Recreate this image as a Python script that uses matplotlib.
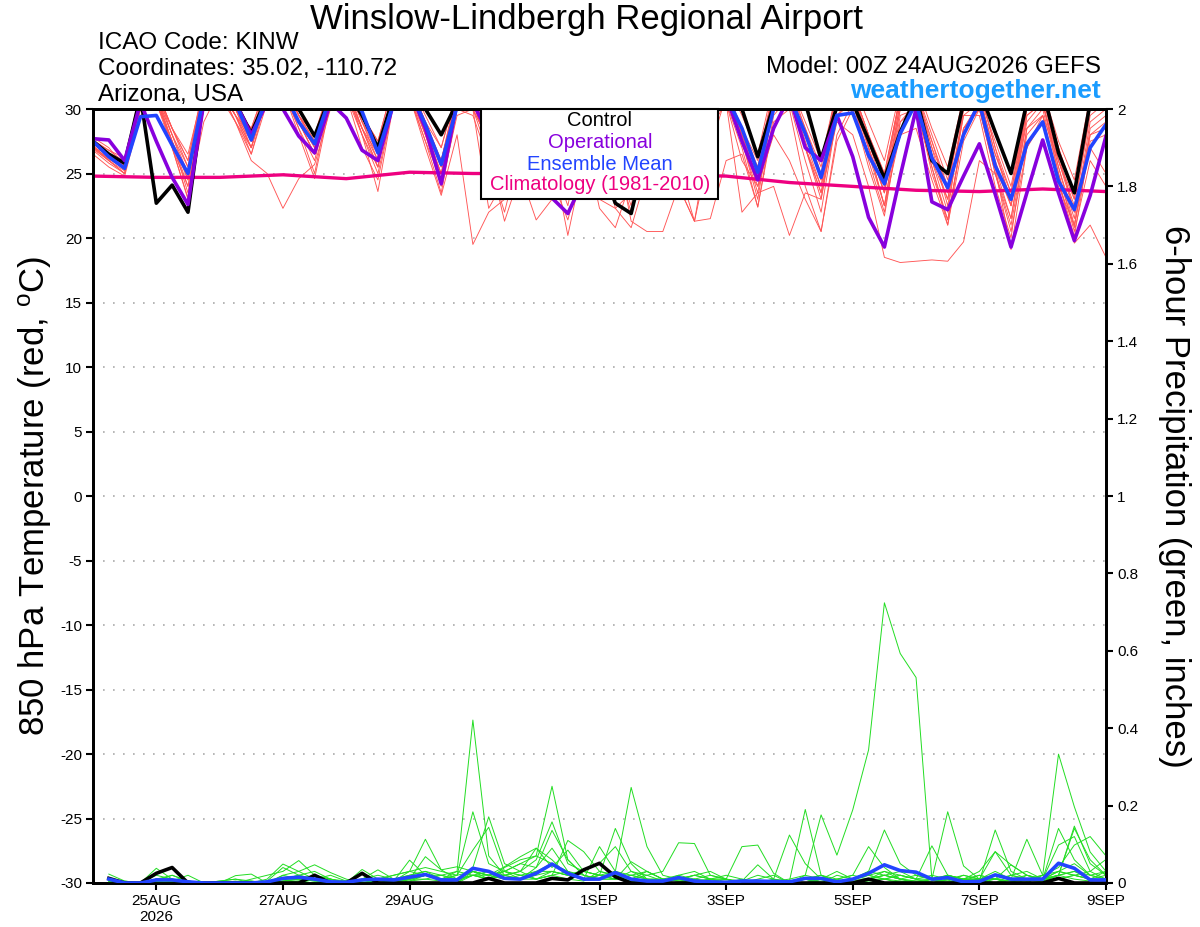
import matplotlib
matplotlib.use('Agg')
import matplotlib.pyplot as plt
from matplotlib.patches import Rectangle

# forecast hours after 00Z 24AUG2026
fcst_hours = list(range(0, 385, 6))
precip_hours = list(range(6, 385, 6))
clim_hours = list(range(0, 385, 24))

tick_hours = [24, 72, 120, 192, 240, 288, 336, 384]
tick_labels = ['25AUG\n2026', '27AUG', '29AUG', '1SEP', '3SEP', '5SEP', '7SEP', '9SEP']

# 850 hPa temperature (C)
temp_mean = [27.5, 26.3, 25.4, 29.4, 29.5, 27.2, 25.0, 31.0, 32.0, 30.5, 27.6, 31.0,
             31.5, 29.0, 27.3, 31.0, 31.5, 29.8, 26.6, 30.5, 31.5, 28.8, 25.7, 30.2,
             31.0, 29.0, 26.0, 29.5, 30.5, 28.5, 25.5, 29.0, 30.0, 28.5, 25.5, 29.0,
             30.5, 28.5, 25.5, 29.5, 31.0, 28.5, 25.1, 30.0, 31.0, 28.1, 24.7, 29.5,
             29.7, 26.4, 24.2, 28.1, 30.5, 26.2, 23.9, 28.0, 30.5, 25.6, 23.0, 27.3,
             29.0, 24.4, 22.2, 27.0, 28.8]
temp_control = [27.5, 26.5, 25.8, 31.0, 22.7, 24.1, 22.0, 31.0, 32.0, 30.5, 28.1, 31.0,
                32.0, 30.0, 27.9, 31.0, 31.5, 29.5, 27.0, 31.0, 31.5, 30.0, 28.0, 30.5,
                31.0, 29.0, 26.0, 29.5, 30.5, 28.5, 26.0, 29.0, 26.0, 22.7, 21.9, 27.0,
                30.5, 29.0, 26.5, 30.5, 31.5, 30.0, 26.3, 30.3, 31.5, 30.5, 26.1, 30.2,
                30.5, 27.6, 24.6, 28.2, 31.0, 26.0, 25.0, 30.5, 31.5, 28.2, 25.0, 30.5,
                31.5, 26.6, 23.5, 30.5, 31.5]
temp_oper = [27.7, 27.6, 26.0, 30.5, 27.5, 24.7, 22.6, 30.5, 32.0, 30.5, 28.0, 30.5,
             30.0, 27.9, 26.6, 30.5, 29.3, 26.8, 26.0, 30.5, 31.5, 28.5, 24.2, 30.5,
             30.5, 28.0, 25.0, 28.5, 29.5, 23.1, 21.9, 24.5, 28.5, 27.5, 25.0, 28.5,
             30.0, 28.0, 25.5, 29.5, 31.0, 27.5, 24.5, 28.5, 31.0, 27.0, 26.0, 29.5,
             26.3, 21.6, 19.3, 24.8, 30.0, 22.8, 22.2, 24.8, 27.3, 23.4, 19.3, 23.5,
             27.6, 23.5, 19.8, 23.3, 27.9]
temp_clim = [24.8, 24.7, 24.7, 24.9, 24.6, 25.1, 25.0, 25.0, 24.9, 24.9, 24.8, 24.3,
             24.0, 23.7, 23.6, 23.8, 23.6]

t_mem01 = [27.0, 26.0, 25.2, 30.5, 31.0, 28.0, 25.5, 31.5, 32.0, 30.0, 27.5, 31.0,
           32.5, 29.5, 27.0, 31.5, 32.0, 29.0, 26.0, 31.5, 32.0, 28.5, 25.0, 31.0,
           30.5, 27.0, 24.5, 29.0, 30.5, 26.0, 22.5, 28.5, 29.0, 26.5, 24.5, 29.5,
           30.5, 27.5, 25.0, 31.0, 31.5, 28.0, 24.5, 31.0, 31.5, 27.5, 24.0, 30.5,
           31.5, 27.0, 23.5, 30.0, 31.0, 26.5, 23.0, 30.0, 30.5, 26.0, 22.5, 29.5,
           30.5, 25.5, 21.5, 29.0, 30.0]
t_mem02 = [27.5, 26.5, 25.5, 30.0, 30.5, 27.5, 24.5, 31.0, 31.5, 29.5, 27.0, 31.5,
           32.0, 29.0, 26.5, 31.0, 31.5, 28.5, 25.5, 31.0, 31.0, 27.0, 23.3, 28.0,
           19.5, 22.0, 23.0, 29.0, 30.0, 27.0, 24.0, 30.0, 30.5, 27.5, 25.0, 31.0,
           31.5, 28.0, 25.5, 31.0, 31.0, 28.0, 24.5, 30.5, 31.0, 27.0, 23.5, 29.0,
           28.0, 24.0, 18.5, 18.1, 18.2, 18.3, 18.2, 19.7, 26.0, 25.0, 21.0, 28.0,
           29.5, 26.0, 22.0, 28.0, 28.5]
t_mem03 = [26.5, 25.5, 24.8, 29.5, 30.5, 27.0, 23.1, 30.0, 31.0, 29.0, 26.0, 25.0,
           22.3, 24.6, 25.7, 30.0, 31.0, 28.0, 23.6, 30.5, 31.5, 28.0, 25.0, 30.0,
           29.5, 26.0, 22.0, 27.0, 28.0, 24.5, 21.4, 26.0, 27.5, 22.3, 20.8, 25.0,
           28.0, 24.0, 21.3, 21.5, 26.0, 26.5, 22.4, 29.0, 30.0, 24.0, 20.5, 27.5,
           30.0, 25.5, 21.7, 29.0, 30.5, 25.0, 21.4, 28.5, 30.5, 25.5, 19.1, 27.0,
           29.5, 24.5, 20.1, 27.5, 28.0]
t_mem04 = [27.0, 26.5, 25.8, 30.0, 31.5, 28.0, 24.5, 31.0, 32.0, 29.5, 28.0, 31.5,
           32.0, 29.5, 27.5, 32.0, 32.0, 29.5, 27.0, 31.5, 32.0, 29.0, 26.0, 31.5,
           31.0, 28.5, 25.5, 30.0, 30.5, 28.0, 24.5, 27.0, 23.0, 22.3, 23.5, 28.5,
           30.0, 27.0, 24.5, 30.5, 31.5, 28.5, 25.5, 31.5, 32.0, 28.5, 25.0, 31.5,
           31.5, 28.0, 24.0, 31.0, 31.0, 27.5, 23.5, 31.0, 31.5, 27.0, 22.5, 30.0,
           31.0, 26.5, 22.0, 30.0, 31.0]
t_mem05 = [27.8, 27.0, 25.5, 31.0, 31.5, 28.5, 26.0, 31.5, 32.5, 30.0, 27.0, 31.0,
           32.0, 29.0, 26.5, 31.5, 32.0, 28.5, 26.5, 31.5, 32.0, 28.5, 25.5, 30.5,
           30.5, 28.0, 27.0, 30.5, 31.0, 27.5, 24.0, 29.0, 30.0, 27.0, 25.0, 30.5,
           31.0, 27.0, 23.0, 29.5, 31.0, 27.5, 24.0, 28.0, 26.0, 23.0, 20.5, 28.0,
           30.5, 27.0, 23.5, 30.5, 31.0, 26.0, 22.0, 30.0, 31.0, 26.5, 23.0, 30.0,
           30.5, 25.5, 21.0, 27.0, 25.0]
t_mem06 = [27.2, 26.0, 25.0, 30.0, 31.0, 27.5, 23.5, 30.5, 31.5, 29.0, 26.5, 30.5,
           31.5, 28.5, 25.0, 31.0, 31.5, 28.0, 25.0, 30.5, 31.5, 28.0, 24.0, 29.5,
           30.0, 26.5, 21.3, 25.0, 21.4, 23.0, 24.5, 28.0, 29.5, 26.0, 22.0, 26.5,
           29.0, 25.5, 21.3, 28.5, 30.5, 22.0, 23.5, 24.0, 20.2, 23.5, 23.0, 29.5,
           31.0, 27.0, 22.5, 29.5, 30.0, 25.5, 21.4, 28.5, 30.0, 25.5, 22.5, 29.0,
           30.5, 25.0, 20.5, 26.0, 24.0]
t_mem07 = [26.8, 25.8, 25.0, 30.5, 31.0, 28.0, 25.0, 31.0, 32.0, 30.0, 28.5, 32.0,
           32.5, 30.0, 28.0, 32.0, 32.5, 29.5, 27.5, 32.0, 32.0, 29.5, 27.0, 31.5,
           31.5, 29.0, 26.5, 31.0, 31.0, 28.5, 26.0, 30.5, 31.0, 28.5, 26.5, 31.0,
           31.5, 29.0, 27.0, 31.5, 32.0, 29.5, 26.5, 32.0, 32.0, 29.0, 26.0, 31.5,
           32.0, 29.0, 26.0, 31.5, 32.0, 28.5, 25.5, 31.0, 31.5, 28.0, 25.0, 31.0,
           31.5, 27.5, 24.5, 31.0, 31.5]
t_mem08 = [27.3, 26.3, 25.6, 31.0, 31.0, 27.0, 24.0, 30.5, 31.5, 29.5, 27.0, 31.5,
           31.5, 28.5, 26.0, 31.0, 31.5, 28.0, 25.5, 31.0, 31.0, 27.5, 23.5, 30.0,
           30.0, 27.5, 25.5, 30.5, 30.5, 26.5, 20.2, 26.0, 29.5, 27.0, 24.5, 28.5,
           28.5, 25.0, 23.0, 30.0, 31.0, 27.5, 23.0, 30.5, 31.0, 27.0, 23.5, 30.5,
           31.0, 27.0, 22.5, 28.0, 28.5, 24.5, 21.0, 27.5, 30.0, 25.0, 20.5, 27.0,
           29.0, 24.5, 19.6, 21.0, 18.5]
t_mem09 = [27.0, 26.2, 25.3, 30.0, 30.5, 27.5, 24.8, 31.0, 31.5, 29.5, 27.5, 31.0,
           31.0, 29.0, 27.0, 31.5, 31.0, 28.5, 26.0, 31.0, 31.0, 28.0, 25.0, 30.5,
           30.5, 27.0, 24.0, 29.0, 29.0, 26.0, 23.5, 28.0, 22.3, 20.8, 24.5, 29.0,
           30.0, 26.5, 23.5, 29.5, 30.5, 27.0, 22.4, 29.5, 31.0, 27.0, 24.0, 30.5,
           30.5, 26.5, 22.5, 30.0, 30.5, 26.0, 23.0, 29.5, 30.5, 25.5, 21.5, 29.5,
           30.5, 26.0, 22.5, 29.5, 30.5]
t_mem10 = [27.5, 26.8, 26.2, 31.0, 31.5, 28.5, 25.5, 31.5, 32.0, 30.0, 27.5, 31.5,
           32.0, 29.5, 27.5, 31.5, 32.0, 29.0, 27.0, 31.5, 32.0, 29.0, 26.0, 31.0,
           31.0, 28.0, 26.0, 30.5, 31.0, 28.0, 26.0, 31.0, 30.5, 27.5, 21.3, 20.5,
           20.5, 24.0, 21.3, 27.0, 31.0, 28.0, 25.5, 31.0, 31.5, 28.0, 24.5, 31.0,
           31.5, 28.0, 25.0, 31.0, 31.0, 27.0, 24.0, 30.5, 31.0, 26.5, 23.5, 30.0,
           31.0, 26.0, 23.0, 30.5, 31.0]
t_mem11 = [26.9, 26.0, 25.0, 30.5, 31.0, 27.0, 23.0, 29.0, 31.5, 29.5, 26.5, 31.0,
           31.5, 29.0, 26.5, 31.0, 31.5, 28.5, 25.5, 31.5, 31.5, 28.5, 25.5, 31.0,
           30.0, 27.5, 25.0, 29.0, 29.5, 27.0, 25.0, 29.0, 29.5, 26.0, 24.0, 29.0,
           30.0, 27.0, 24.5, 30.5, 31.0, 27.5, 23.5, 30.5, 31.0, 27.0, 23.0, 30.5,
           31.0, 27.5, 23.5, 30.5, 31.5, 27.0, 22.5, 29.5, 29.5, 24.0, 20.0, 28.5,
           30.0, 25.0, 20.8, 28.5, 29.5]
t_mem12 = [27.4, 26.5, 25.7, 31.0, 31.0, 28.5, 26.5, 31.5, 32.0, 30.0, 28.5, 32.0,
           32.0, 29.5, 28.0, 31.5, 32.0, 29.5, 27.5, 32.0, 32.0, 29.0, 27.0, 31.5,
           31.5, 28.5, 26.5, 31.0, 31.0, 28.0, 26.0, 30.5, 31.0, 28.0, 26.0, 31.0,
           31.0, 28.0, 26.0, 31.0, 31.5, 28.5, 26.0, 31.5, 31.5, 28.5, 25.5, 31.5,
           31.5, 28.0, 25.0, 31.0, 31.5, 28.0, 24.5, 31.0, 31.0, 27.5, 24.0, 30.5,
           31.0, 27.0, 23.5, 30.5, 31.0]
t_mem13 = [27.1, 26.1, 25.4, 30.5, 31.0, 27.5, 24.0, 30.5, 31.5, 29.0, 27.0, 31.0,
           31.5, 28.0, 24.6, 30.5, 31.0, 27.0, 24.5, 30.5, 31.0, 27.5, 24.5, 30.0,
           30.0, 22.3, 24.5, 29.5, 30.0, 26.5, 23.0, 29.0, 30.0, 26.0, 22.5, 28.5,
           29.5, 25.0, 23.0, 29.0, 30.5, 26.0, 24.0, 30.0, 30.5, 26.0, 22.0, 29.5,
           30.5, 26.0, 22.0, 29.0, 30.0, 25.5, 21.0, 28.5, 30.0, 25.0, 21.5, 28.5,
           29.5, 24.0, 21.0, 28.0, 29.0]
t_mem14 = [27.6, 26.8, 25.9, 31.5, 31.5, 28.5, 26.0, 32.0, 32.0, 30.0, 28.0, 32.0,
           32.0, 29.5, 27.5, 32.0, 32.0, 29.0, 26.5, 31.5, 31.5, 28.5, 26.0, 31.0,
           31.0, 28.5, 26.0, 30.5, 30.5, 28.0, 25.5, 30.5, 30.5, 27.5, 25.0, 30.5,
           31.0, 28.0, 25.5, 31.0, 31.5, 28.0, 25.0, 31.5, 31.5, 28.0, 24.5, 31.5,
           31.5, 27.5, 24.5, 31.0, 31.5, 27.5, 24.0, 31.0, 31.5, 27.0, 23.5, 30.5,
           31.5, 27.0, 23.0, 30.5, 31.5]

# 6-hour precipitation (inches)
precip_mean = [0.01, 0.0, 0.0, 0.008, 0.008, 0.003, 0.0, 0.0, 0.0, 0.0, 0.003, 0.012,
               0.015, 0.01, 0.003, 0.002, 0.008, 0.01, 0.008, 0.015, 0.022, 0.008, 0.008, 0.038,
               0.03, 0.012, 0.01, 0.025, 0.049, 0.025, 0.01, 0.01, 0.027, 0.01, 0.005, 0.005,
               0.014, 0.005, 0.003, 0.002, 0.005, 0.005, 0.004, 0.003, 0.012, 0.012, 0.003, 0.01,
               0.025, 0.047, 0.032, 0.028, 0.01, 0.014, 0.003, 0.004, 0.021, 0.01, 0.01, 0.01,
               0.051, 0.038, 0.008, 0.008]
precip_control = [0.012, 0, 0, 0.025, 0.04, 0, 0, 0, 0, 0, 0, 0,
                  0, 0.02, 0, 0, 0.025, 0, 0, 0, 0, 0, 0, 0,
                  0.012, 0, 0, 0, 0.012, 0.008, 0.034, 0.051, 0.016, 0, 0, 0,
                  0, 0, 0, 0, 0, 0, 0, 0, 0, 0, 0, 0,
                  0.01, 0, 0, 0, 0, 0, 0, 0, 0, 0, 0, 0,
                  0.012, 0, 0, 0]

p_mem01 = [0.023, 0.005, 0, 0.01, 0.005, 0, 0, 0, 0, 0, 0.01, 0.049,
           0.03, 0.01, 0, 0, 0, 0.005, 0.01, 0.02, 0.03, 0.01, 0.005, 0.02,
           0.01, 0.03, 0.05, 0.04, 0.136, 0.06, 0.02, 0.01, 0.02, 0.01, 0.005, 0,
           0, 0.01, 0.02, 0.01, 0, 0, 0.005, 0, 0, 0.01, 0.03, 0.01,
           0.02, 0.01, 0.005, 0, 0, 0.01, 0.02, 0.01, 0.03, 0.01, 0, 0.005,
           0.02, 0.141, 0.06, 0.02]
p_mem02 = [0.005, 0, 0, 0.038, 0.01, 0, 0, 0, 0, 0, 0, 0,
           0, 0, 0, 0, 0.035, 0.01, 0, 0.005, 0.01, 0.005, 0, 0.02,
           0.01, 0.02, 0.03, 0.01, 0.02, 0.01, 0.005, 0.03, 0.02, 0.005, 0, 0,
           0.01, 0.02, 0.01, 0, 0, 0, 0.005, 0.01, 0.02, 0.176, 0.072, 0.189,
           0.344, 0.724, 0.593, 0.531, 0.01, 0.005, 0, 0.01, 0.02, 0.01, 0.005, 0.01,
           0.03, 0.02, 0.01, 0.005]
p_mem03 = [0.005, 0, 0, 0.02, 0.01, 0.005, 0, 0, 0, 0.005, 0, 0.02,
           0.01, 0.005, 0, 0, 0.01, 0.034, 0.01, 0.005, 0.02, 0.01, 0.01, 0.03,
           0.02, 0.01, 0.02, 0.03, 0.05, 0.02, 0.01, 0.02, 0.141, 0.05, 0.01, 0,
           0, 0.005, 0.01, 0, 0, 0.005, 0, 0, 0.01, 0.02, 0.01, 0,
           0.01, 0.03, 0.02, 0.01, 0, 0.01, 0.005, 0.02, 0.01, 0, 0.02, 0.01,
           0.098, 0.12, 0.03, 0.01]
p_mem04 = [0, 0, 0, 0.005, 0.005, 0.02, 0, 0, 0, 0, 0, 0.01,
           0.02, 0.01, 0, 0, 0, 0, 0.005, 0.059, 0.02, 0.01, 0, 0.03,
           0.02, 0.03, 0.02, 0.01, 0.02, 0.03, 0.01, 0.094, 0.03, 0.01, 0, 0.005,
           0.01, 0, 0, 0, 0, 0, 0, 0.005, 0.19, 0.02, 0, 0.01,
           0.03, 0.02, 0.01, 0, 0.005, 0.02, 0.01, 0.01, 0.01, 0.005, 0, 0.02,
           0.03, 0.05, 0.02, 0.01]
p_mem05 = [0, 0, 0, 0.01, 0.01, 0, 0, 0, 0, 0.01, 0.02, 0.03,
           0.058, 0.02, 0.01, 0, 0, 0, 0, 0.01, 0.068, 0.034, 0.042, 0.03,
           0.01, 0.04, 0.06, 0.07, 0.05, 0.03, 0.02, 0.01, 0.01, 0.02, 0.03, 0.01,
           0.01, 0.02, 0.01, 0, 0.01, 0, 0, 0, 0, 0.01, 0, 0.01,
           0.03, 0.137, 0.05, 0.02, 0.01, 0, 0.005, 0.01, 0, 0.01, 0.02, 0.005,
           0.02, 0.03, 0.01, 0.02]
p_mem06 = [0, 0, 0, 0, 0.005, 0, 0, 0, 0, 0, 0.005, 0.04,
           0.02, 0.01, 0, 0, 0.005, 0.01, 0, 0.01, 0.01, 0.02, 0.03, 0.02,
           0.03, 0.02, 0.03, 0.06, 0.158, 0.05, 0.03, 0.02, 0.01, 0.03, 0.02, 0.005,
           0.02, 0.03, 0.01, 0.01, 0, 0, 0.01, 0.005, 0.01, 0, 0.01, 0.02,
           0.01, 0.02, 0.03, 0.01, 0.096, 0.02, 0.01, 0, 0, 0.02, 0.01, 0.01,
           0.03, 0.02, 0.01, 0.005]
p_mem07 = [0.005, 0, 0, 0, 0, 0, 0, 0.005, 0.01, 0.005, 0, 0.02,
           0.03, 0.047, 0.027, 0.01, 0, 0, 0.01, 0.01, 0.02, 0.01, 0.01, 0.02,
           0.01, 0.02, 0.01, 0.02, 0.03, 0.02, 0.03, 0.02, 0.01, 0.01, 0.02, 0.03,
           0.104, 0.102, 0.02, 0.01, 0, 0, 0.005, 0, 0, 0.005, 0.01, 0.02,
           0.094, 0.04, 0.01, 0.005, 0.01, 0.02, 0.01, 0.01, 0.081, 0.02, 0.01, 0.01,
           0.02, 0.147, 0.05, 0.02]
p_mem08 = [0, 0, 0, 0.005, 0.02, 0.005, 0, 0, 0.019, 0.023, 0, 0.01,
           0.02, 0.03, 0.01, 0, 0, 0, 0.005, 0.03, 0.113, 0.034, 0.01, 0.02,
           0.02, 0.01, 0.01, 0.03, 0.03, 0.02, 0.01, 0.01, 0.01, 0.055, 0.03, 0.01,
           0.005, 0.01, 0, 0.01, 0.094, 0.098, 0.025, 0, 0, 0.01, 0.005, 0,
           0.01, 0.02, 0.01, 0.005, 0, 0.01, 0, 0.005, 0.01, 0.047, 0.02, 0.01,
           0.02, 0.01, 0.005, 0.01]
p_mem09 = [0, 0, 0, 0, 0, 0, 0, 0.005, 0.01, 0, 0, 0.01,
           0.01, 0.02, 0.01, 0, 0, 0.01, 0.02, 0.03, 0.02, 0.01, 0.03, 0.421,
           0.07, 0.02, 0.01, 0.01, 0.03, 0.02, 0.01, 0.02, 0.02, 0.01, 0.03, 0.01,
           0.005, 0, 0.01, 0.02, 0.01, 0, 0, 0.005, 0.01, 0, 0.02, 0.01,
           0.01, 0, 0.005, 0, 0.01, 0.005, 0.02, 0.01, 0.02, 0.01, 0.113, 0.02,
           0.01, 0.02, 0.01, 0.03]
p_mem10 = [0, 0.005, 0, 0.005, 0, 0, 0, 0, 0, 0, 0.005, 0.01,
           0, 0.01, 0.005, 0, 0.01, 0, 0.005, 0.01, 0.02, 0.01, 0.02, 0.184,
           0.05, 0.03, 0.01, 0.04, 0.09, 0.03, 0.01, 0.02, 0.03, 0.247, 0.094, 0.02,
           0.01, 0, 0.01, 0.01, 0.005, 0.02, 0.01, 0.124, 0.05, 0.01, 0, 0.01,
           0.02, 0.03, 0.01, 0.02, 0.01, 0.02, 0.01, 0.005, 0.137, 0.03, 0.01, 0.02,
           0.333, 0.197, 0.08, 0.03]
p_mem11 = [0.005, 0, 0, 0.01, 0.005, 0, 0, 0, 0, 0, 0, 0.005,
           0.005, 0, 0.01, 0.005, 0.005, 0.01, 0.02, 0.03, 0.04, 0.03, 0.02, 0.085,
           0.144, 0.03, 0.02, 0.01, 0.02, 0.11, 0.081, 0.03, 0.02, 0.01, 0.005, 0,
           0, 0.01, 0.005, 0, 0.005, 0.047, 0.01, 0, 0, 0.01, 0, 0.005,
           0.01, 0.01, 0.02, 0.01, 0.01, 0.184, 0.044, 0.01, 0, 0.01, 0.005, 0.01,
           0.01, 0.02, 0.03, 0.061]
p_mem12 = [0, 0, 0, 0.005, 0.01, 0, 0, 0, 0.005, 0, 0, 0.005,
           0.01, 0.01, 0.02, 0.005, 0.01, 0.02, 0.01, 0.02, 0.03, 0.02, 0.01, 0.04,
           0.171, 0.05, 0.03, 0.09, 0.04, 0.085, 0.03, 0.02, 0.01, 0.02, 0.01, 0.01,
           0.02, 0.01, 0, 0.005, 0, 0.01, 0.02, 0, 0.01, 0.02, 0.005, 0,
           0.005, 0.01, 0.02, 0.01, 0.02, 0.01, 0.01, 0.03, 0.081, 0.047, 0.02, 0.01,
           0.141, 0.06, 0.02, 0.01]
p_mem13 = [0, 0, 0, 0, 0, 0.005, 0, 0, 0, 0, 0, 0,
           0.005, 0.01, 0, 0.005, 0, 0.01, 0.005, 0.01, 0.02, 0.01, 0.02, 0.03,
           0.02, 0.03, 0.05, 0.07, 0.25, 0.06, 0.02, 0.01, 0.03, 0.02, 0.01, 0.01,
           0.005, 0, 0, 0, 0, 0, 0, 0.005, 0.01, 0, 0.005, 0.01,
           0.02, 0.01, 0, 0, 0.01, 0, 0.005, 0, 0.01, 0.005, 0.01, 0.02,
           0.04, 0.098, 0.12, 0.07]
p_mem14 = [0.01, 0, 0, 0.01, 0.02, 0.005, 0, 0, 0, 0, 0, 0.005,
           0.01, 0.005, 0.01, 0, 0, 0.005, 0.01, 0.01, 0.02, 0.02, 0.01, 0.03,
           0.02, 0.042, 0.068, 0.09, 0.06, 0.02, 0.034, 0.051, 0.094, 0.03, 0.01, 0.005,
           0.01, 0.02, 0.03, 0.01, 0, 0, 0, 0, 0.02, 0.01, 0, 0,
           0.01, 0.02, 0.01, 0, 0.01, 0, 0.01, 0.02, 0.01, 0.02, 0.03, 0.01,
           0.02, 0.03, 0.02, 0.03]


def main():
    plt.rcParams['font.family'] = 'Liberation Sans'
    plt.rcParams['mathtext.default'] = 'regular'
    plt.rcParams['axes.unicode_minus'] = False

    temp_members = [t_mem01, t_mem02, t_mem03, t_mem04, t_mem05, t_mem06, t_mem07,
                    t_mem08, t_mem09, t_mem10, t_mem11, t_mem12, t_mem13, t_mem14]
    precip_members = [p_mem01, p_mem02, p_mem03, p_mem04, p_mem05, p_mem06, p_mem07,
                      p_mem08, p_mem09, p_mem10, p_mem11, p_mem12, p_mem13, p_mem14]

    red = '#ff5555'
    green = '#22dd22'
    black = 'black'
    purple = '#8800dd'
    blue = '#2244ff'
    pink = '#ee0080'

    W, H = 1200, 927
    fig = plt.figure(figsize=(12, 9.27), dpi=100)
    ax = fig.add_axes([93 / W, 1 - 883 / H, (1106 - 93) / W, (883 - 109) / H])
    ax2 = ax.twinx()

    # temperature
    for m in temp_members:
        ax.plot(fcst_hours, m, color=red, lw=0.65, zorder=2)
    ax.plot(clim_hours, temp_clim, color=pink, lw=2.4, zorder=3)
    ax.plot(fcst_hours, temp_control, color=black, lw=2.6, zorder=4)
    ax.plot(fcst_hours, temp_oper, color=purple, lw=2.6, zorder=5)
    ax.plot(fcst_hours, temp_mean, color=blue, lw=2.6, zorder=6)

    # precipitation
    for m in precip_members:
        ax2.plot(precip_hours, m, color=green, lw=0.7, zorder=2)
    ax2.plot(precip_hours, precip_control, color=black, lw=2.6, zorder=4)
    ax2.plot(precip_hours, precip_mean, color=blue, lw=2.6, zorder=6)

    ax.set_xlim(0, 384)
    ax.set_ylim(-30, 30)
    ax2.set_ylim(0, 2)
    ax.set_xticks(tick_hours)
    ax.set_xticklabels(tick_labels, fontsize=11)
    ax.set_yticks(range(-30, 31, 5))
    ax.set_yticklabels([str(v) for v in range(-30, 31, 5)], fontsize=11)
    rticks = [i * 0.2 for i in range(11)]
    ax2.set_yticks(rticks)
    ax2.set_yticklabels(['0', '0.2', '0.4', '0.6', '0.8', '1', '1.2', '1.4', '1.6', '1.8', '2'],
                        fontsize=11)
    ax.yaxis.grid(True, linestyle=(0, (1, 5)), color='#aaaaaa', lw=1.2)
    ax.tick_params(direction='out', length=5, width=1.5, pad=3)
    ax2.tick_params(direction='out', length=5, width=1.5, pad=3)
    for a in (ax, ax2):
        for s in a.spines.values():
            s.set_linewidth(2.0)

    fig.text(35 / W, 1 - 496 / H, '850 hPa Temperature (red, $^o$C)', rotation=90,
             ha='center', va='center', fontsize=25)
    fig.text(1175 / W, 1 - 496 / H, '6-hour Precipitation (green, inches)', rotation=270,
             ha='center', va='center', fontsize=25)

    # header
    fig.text(586 / W, 1 - 29 / H, 'Winslow-Lindbergh Regional Airport', ha='center',
             va='baseline', fontsize=25)
    fig.text(98 / W, 1 - 49 / H, 'ICAO Code: KINW', ha='left', va='baseline', fontsize=17.5)
    fig.text(98 / W, 1 - 75 / H, 'Coordinates: 35.02, -110.72', ha='left', va='baseline',
             fontsize=17.5)
    fig.text(98 / W, 1 - 101 / H, 'Arizona, USA', ha='left', va='baseline', fontsize=17.5)
    fig.text(1101 / W, 1 - 73 / H, 'Model: 00Z 24AUG2026 GEFS', ha='right', va='baseline',
             fontsize=17.5)
    fig.text(1101 / W, 1 - 98 / H, 'weathertogether.net', ha='right', va='baseline',
             fontsize=19, fontweight='bold', color='#1a9cff')

    # legend box
    box = Rectangle((481 / W, 1 - 199 / H), (718 - 481) / W, (199 - 109) / H,
                    transform=fig.transFigure, facecolor='white', edgecolor='black',
                    lw=1.5, zorder=5)
    fig.add_artist(box)
    leg_items = [('Control', black, 121), ('Operational', purple, 142),
                 ('Ensemble Mean', blue, 164), ('Climatology (1981-2010)', pink, 185)]
    for label, col, ypix in leg_items:
        fig.text(600 / W, 1 - ypix / H, label, color=col, ha='center', va='center',
                 fontsize=14.5, zorder=6)

    fig.savefig('out.png', dpi=100)


if __name__ == "__main__":
    main()
